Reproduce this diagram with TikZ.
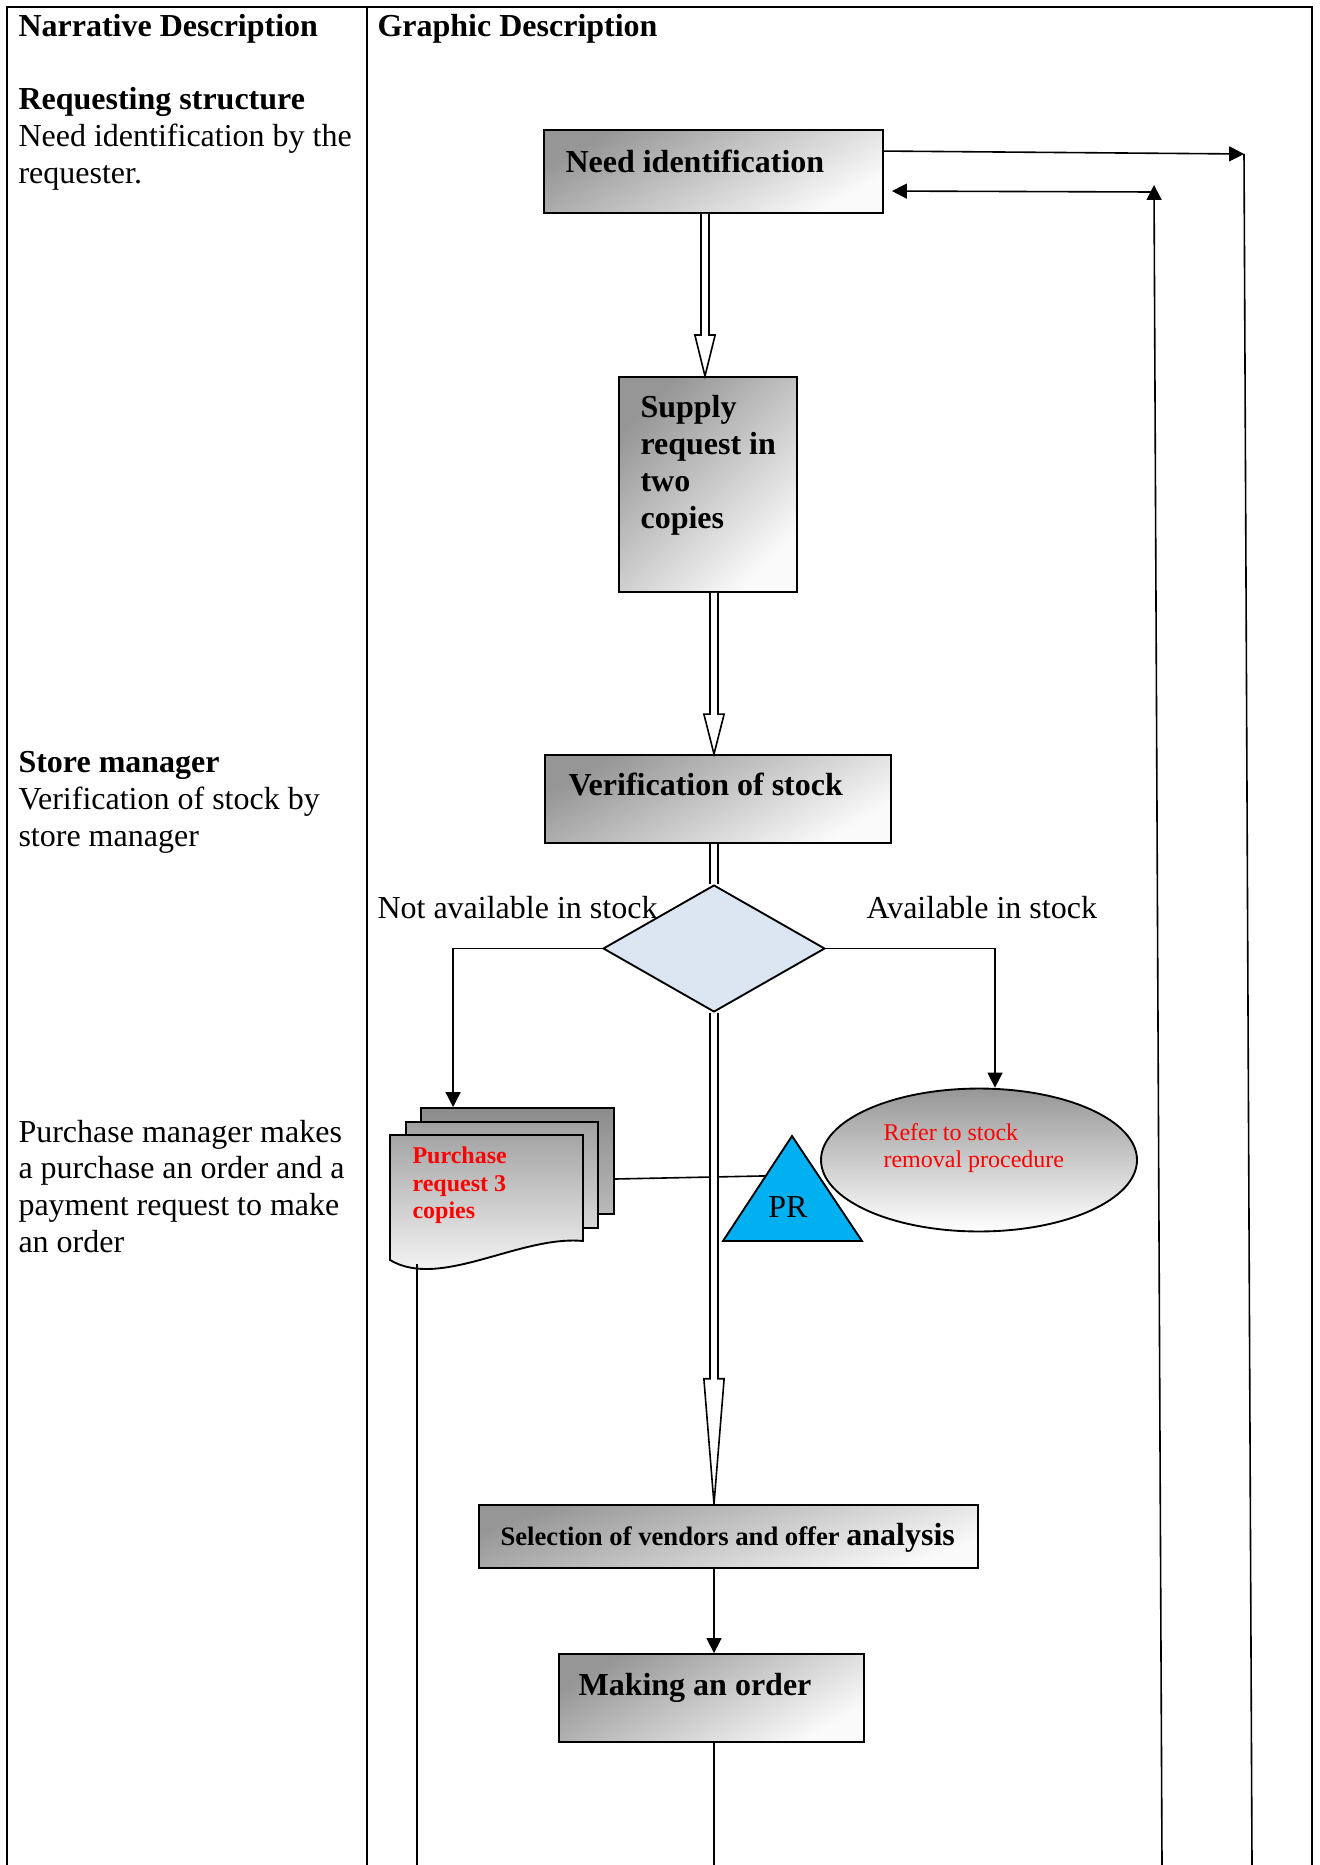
\documentclass[tikz,border=0pt]{standalone}
\usepackage{fontspec}
\setmainfont{Liberation Serif}
\usetikzlibrary{arrows.meta,shapes.geometric,calc,fit}

\definecolor{boxdark}{RGB}{150,150,150}
\definecolor{boxlight}{RGB}{250,250,250}
\definecolor{diafill}{RGB}{220,230,242}
\definecolor{prblue}{RGB}{0,176,240}
\definecolor{backtop}{RGB}{140,140,140}
\definecolor{backbot}{RGB}{185,185,185}
\definecolor{midtop}{RGB}{160,160,160}
\definecolor{midbot}{RGB}{215,215,215}
\definecolor{fronttop}{RGB}{165,165,165}
\definecolor{ovaltop}{RGB}{150,150,150}

% block arrow: #1 start of shaft, #2 tip, #3 head length
\newcommand\blockarrow[3]{%
  \draw[blk] let \p1=(#1), \p2=(#2) in
    (\x2-1.5pt,\y1) -- (\x2-1.5pt,\y2+#3) -- (\x2-3.8pt,\y2+#3) -- (\x2,\y2)
    -- (\x2+3.8pt,\y2+#3) -- (\x2+1.5pt,\y2+#3) -- (\x2+1.5pt,\y1);}

\begin{document}
\begin{tikzpicture}[x=0.375pt,y=-0.375pt,
  frame/.style={line width=0.75pt},
  conn/.style={line width=0.6pt},
  arr/.style={line width=0.6pt, -{Triangle[length=5.6pt,width=5.6pt]}},
  blk/.style={draw, fill=white, line width=0.6pt, line join=miter},
  dblst/.style={line width=0.6pt, double, double distance=2.4pt},
  box/.style={draw, line width=0.7pt, inner sep=0, top color=boxdark, bottom color=boxlight, shading angle=#1},
  box/.default=45,
  txt/.style={anchor=base west, inner sep=0, font=\fontsize{12}{13.8}\selectfont},
  btxt/.style={txt, font=\fontsize{12}{13.8}\selectfont\bfseries},
  rtxt/.style={anchor=base west, inner sep=0, text=red, font=\fontsize{9}{10}\selectfont},
  rbtxt/.style={rtxt, font=\fontsize{9}{10}\selectfont\bfseries}]

\useasboundingbox (0,0) rectangle (1319,1865);

% table frame
\coordinate (pagebottom) at (0,1865);
\draw[frame] (7,1865) -- (7,7) -- (1312,7) -- (1312,1865);
\draw[frame] (367,7) -- (367,1865);

% narrative column
\node[btxt] (hdl) at (18,37) {Narrative Description};
\node[btxt] (hdr) at (377,37) {Graphic Description};
\node[btxt] (l1) at (18,110) {Requesting structure};
\node[txt] (l2) at (18,147) {Need identification by the};
\node[txt] (l3) at (18,184) {requester.};
\node[btxt] (l4) at (18,772) {Store manager};
\node[txt] (l5) at (18,809) {Verification of stock by};
\node[txt] (l6) at (18,846) {store manager};
\node[txt] (l7) at (18,1142) {Purchase manager makes};
\node[txt] (l8) at (18,1178) {a purchase an order and a};
\node[txt] (l9) at (18,1215) {payment request to make};
\node[txt] (l10) at (18,1252) {an order};

% process boxes (diagonal gradient, dark at top left)
\node[box=30, fit={(544,130) (883,213)}] (need) {};
\node[box=45, fit={(619,377) (797,592)}] (supply) {};
\node[box=30, fit={(545,755) (891,843)}] (verif) {};
\node[box=20, fit={(479,1505) (978,1568)}] (sel) {};
\node[box=30, fit={(559,1654) (864,1742)}] (mk) {};

\node[btxt] (tneed) at (565,173) {Need identification};
\node[btxt] (ts1) at (640,417) {Supply};
\node[btxt] (ts2) at (640,454) {request in};
\node[btxt] (ts3) at (640,491) {two};
\node[btxt] (ts4) at (640,528) {copies};
\node[btxt] (tver) at (568,795) {Verification of stock};
\node[anchor=base west, inner sep=0] (tsel) at (500,1545)
  {\fontsize{10}{12}\selectfont\bfseries Selection of vendors and offer \fontsize{12}{14}\selectfont analysis};
\node[btxt] (tmk) at (578,1695) {Making an order};

% decision
\node[diamond, draw, fill=diafill, line width=0.7pt, inner sep=0,
      minimum width=83.2pt, minimum height=47.6pt] (dia) at (714,948.5) {};
\node[txt] (tno) at (377,918) {Not available in stock};
\node[txt] (tyes) at (866,918) {Available in stock};

% stock removal oval
\node[ellipse, draw, line width=0.7pt, inner sep=0, minimum width=118.5pt, minimum height=53.6pt,
      top color=ovaltop, bottom color=white] (ell) at (979,1160) {};
\node[rtxt] (te1) at (883,1140) {Refer to stock};
\node[rtxt] (te2) at (883,1167) {removal procedure};

% purchase request copies
\node[fit={(421,1108) (614,1214)}, draw, line width=0.7pt, inner sep=0,
      top color=backtop, bottom color=backbot] (back) {};
\node[fit={(406,1122) (598,1228)}, draw, line width=0.7pt, inner sep=0,
      top color=midtop, bottom color=midbot] (mid) {};
\path[draw, line width=0.7pt, top color=fronttop, bottom color=white]
  (390,1135) -- (583,1135) -- (583,1241) .. controls (520,1235) and (440,1290) .. (390,1260) -- cycle;
\coordinate (docfoot) at (417,1264);
\node[rbtxt] (td1) at (412,1163) {Purchase};
\node[rbtxt] (td2) at (412,1191) {request 3};
\node[rbtxt] (td3) at (412,1218) {copies};

% PR triangle
\coordinate (prA) at (792,1136);
\coordinate (prB) at (723,1241);
\coordinate (prC) at (862,1241);
\coordinate (prleft) at ($(prA)!0.38!(prB)$);
\draw[conn] ($(back.east)+(0,18)$) -- (prleft);
\draw[line width=0.7pt, fill=prblue, line join=miter] (prA) -- (prB) -- (prC) -- cycle;
\node[txt, anchor=base] (pr) at (788,1217) {PR};

% main flow
\coordinate (axA) at (705,0);
\coordinate (axB) at (714,0);
\blockarrow{need.south -| axA}{supply.north -| axA}{15.4pt}
\blockarrow{supply.south -| axB}{verif.north -| axB}{15pt}
\draw[dblst] (verif.south -| axB) -- (dia.north);
\blockarrow{dia.south}{sel.north -| dia.south}{47pt}
\draw[arr] (sel.south -| axB) -- (mk.north -| axB);
\draw[conn] (mk.south -| axB) -- (axB |- pagebottom);

% branches
\draw[arr] (dia.west) -| ($(back.north west)+(33,0)$);
\draw[arr] (dia.east) -| ($(ell.north)+(16,0)$);
\draw[conn] (docfoot) -- (docfoot |- pagebottom);

% return lines on the right
\coordinate (outA) at (1244,154);
\coordinate (outAbot) at (1252,1865);
\coordinate (inBtop) at (1154,185);
\coordinate (inBbot) at (1162,1865);
\coordinate (inBturn) at (1151,192);
\draw[arr] ($(need.north east)+(0,22)$) -- (outA);
\draw[conn] (outA) -- (outAbot);
\draw[arr] (inBbot) -- (inBtop);
\draw[arr] (inBturn) -- ($(need.north east)+(8,62)$);

\end{tikzpicture}
\end{document}
